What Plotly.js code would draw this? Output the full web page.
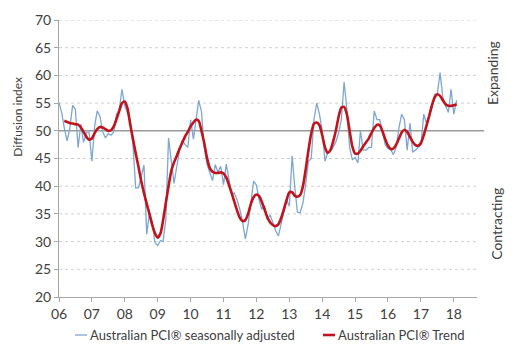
<!DOCTYPE html>
<html>
<head>
<meta charset="utf-8">
<script src="https://cdn.plot.ly/plotly-3.0.1.min.js"></script>
<style>html,body{margin:0;padding:0;background:#fff;}#chart{width:529px;height:354px;}</style>
</head>
<body>
<div id="chart"></div>
<script>
// Monthly series, Jan 2006 .. Feb 2018
const saStart = [2006, 1];
const saValues = [
  55.1, 53.2, 50.5, 48.2, 50.5, 54.6, 53.9, 47.0, 51.2, 47.9, 49.7, 49.8,   // 2006
  44.5, 50.9, 53.6, 52.6, 49.8, 48.7, 49.5, 49.2, 49.8, 53.0, 53.8, 57.5,   // 2007
  54.5, 53.2, 52.0, 47.5, 39.7, 39.7, 41.5, 43.8, 31.3, 35.2, 33.5, 29.8,   // 2008
  29.3, 30.2, 30.0, 34.0, 48.7, 44.5, 40.5, 43.6, 46.5, 48.3, 47.5, 47.0,   // 2009
  52.0, 48.5, 51.5, 55.5, 53.5, 47.0, 44.0, 42.5, 41.0, 43.9, 42.5, 43.6,   // 2010
  40.3, 44.0, 41.0, 38.5, 38.8, 37.5, 35.8, 33.5, 30.5, 33.0, 37.0, 40.9,   // 2011
  40.2, 37.5, 35.8, 36.5, 34.0, 34.8, 33.5, 32.0, 31.0, 33.0, 35.0, 37.5,   // 2012
  36.4, 45.5, 40.0, 35.3, 35.2, 37.0, 40.3, 44.5, 45.0, 52.0, 55.0, 53.0,   // 2013
  50.0, 44.5, 46.0, 46.2, 47.0, 48.0, 49.5, 52.0, 58.8, 54.0, 47.0, 44.8,   // 2014
  45.2, 44.2, 50.0, 46.5, 46.5, 47.0, 47.0, 53.6, 52.0, 52.0, 50.0, 47.5,   // 2015
  46.8, 46.6, 45.7, 47.0, 50.5, 53.0, 52.0, 46.5, 51.4, 46.2, 46.5, 47.0,   // 2016
  47.5, 53.0, 51.5, 52.5, 54.0, 56.6, 56.6, 60.5, 56.0, 54.5, 53.3, 57.5,   // 2017
  53.0, 55.5                                                                 // 2018
];
// Trend, Mar 2006 .. Feb 2018
const trendStart = [2006, 3];
const trendValues = [
              51.8, 51.6, 51.4, 51.3, 51.2, 51.1, 50.6, 49.8, 48.9, 48.4,   // 2006
  48.6, 49.6, 50.3, 50.7, 50.6, 50.3, 50.0, 50.1, 50.8, 52.1, 53.6, 55.0,   // 2007
  55.3, 54.0, 51.2, 48.5, 46.0, 43.5, 41.0, 38.8, 36.8, 35.0, 33.0, 31.5,   // 2008
  30.7, 31.5, 33.8, 37.0, 40.0, 42.8, 44.3, 45.5, 46.8, 47.9, 49.0, 49.8,   // 2009
  50.8, 51.5, 52.0, 51.8, 50.0, 47.8, 45.2, 43.3, 42.6, 42.4, 42.4, 42.5,   // 2010
  42.3, 41.6, 40.3, 38.8, 37.2, 35.6, 34.3, 33.7, 33.9, 35.0, 36.8, 38.0,   // 2011
  38.5, 38.2, 37.2, 35.8, 34.4, 33.5, 33.0, 32.8, 33.1, 34.2, 35.8, 37.5,   // 2012
  38.9, 38.9, 38.3, 38.1, 38.4, 40.0, 43.0, 46.5, 49.5, 51.3, 51.5, 51.0,   // 2013
  49.2, 47.0, 46.0, 46.5, 48.0, 50.0, 52.5, 54.2, 54.3, 53.0, 50.0, 47.2,   // 2014
  45.9, 45.9, 46.4, 47.2, 47.9, 48.6, 49.6, 50.5, 51.1, 51.0, 49.9, 48.5,   // 2015
  47.3, 46.7, 46.8, 47.5, 48.6, 49.7, 50.2, 49.8, 48.9, 48.0, 47.4, 47.3,   // 2016
  47.8, 49.2, 50.8, 52.6, 54.5, 56.0, 56.6, 56.3, 55.5, 54.8, 54.5, 54.5,   // 2017
  54.6, 54.8                                                                 // 2018
];
const yearTicks = ['06','07','08','09','10','11','12','13','14','15','16','17','18'];
const yTicks = [20, 25, 30, 35, 40, 45, 50, 55, 60, 65, 70];
const seriesNames = ['Australian PCI\u00ae seasonally adjusted', 'Australian PCI\u00ae Trend'];
const seriesColors = ['#7ea6d3', '#c0131c'];
const zoneLabels = ['Expanding', 'Contracting'];
const yTitle = 'Diffusion index';
const neutralLevel = 50;

function monthDates(start, n) {
  const out = [];
  let y = start[0], m = start[1];
  for (let i = 0; i < n; i++) {
    out.push(y + '-' + String(m).padStart(2, '0') + '-01');
    m++; if (m > 12) { m = 1; y++; }
  }
  return out;
}
const saDates = monthDates(saStart, saValues.length);
const trendDates = monthDates(trendStart, trendValues.length);
const tickVals = yearTicks.map(t => '20' + t + '-01-01');

const fontFam = 'Lato, "Liberation Sans", sans-serif';

const traces = [
  {x: saDates, y: saValues, type: 'scatter', mode: 'lines', name: seriesNames[0],
   line: {color: seriesColors[0], width: 1.3}},
  {x: trendDates, y: trendValues, type: 'scatter', mode: 'lines', name: seriesNames[1],
   line: {color: seriesColors[1], width: 2.6, shape: 'spline', smoothing: 0.6}}
];

// plot area in pixels: x 59..477, y 20..297
const pl = 59, pw = 418, pt = 20, ph = 277;
const px = v => (v - pl) / pw;
const py = v => (pt + ph - v) / ph;

const legendItems = [
  {x0: 75, x1: 87, tx: 88, width: 1.3},
  {x0: 323, x1: 335, tx: 336, width: 2.6}
];
const legendY = 335;

const shapes = [];
// dotted gridlines (except the 20 axis and the solid 50 line)
yTicks.filter(v => v !== neutralLevel && v !== 20).forEach(v => {
  shapes.push({type: 'line', xref: 'paper', yref: 'y', x0: 0, x1: 1, y0: v, y1: v,
    line: {color: '#d0d0d0', width: 1, dash: 'dot'}, layer: 'below'});
});
shapes.push({type: 'line', xref: 'paper', yref: 'y', x0: 0, x1: 1.017, y0: neutralLevel, y1: neutralLevel,
   line: {color: '#9a9a9a', width: 1.5}, layer: 'below'});

const annotations = [
  {text: zoneLabels[0], xref: 'paper', yref: 'paper', x: 1.037, y: 0.81, textangle: -90,
   xanchor: 'center', yanchor: 'middle',
   showarrow: false, font: {size: 14, color: '#404040'}},
  {text: zoneLabels[1], xref: 'paper', yref: 'paper', x: 1.046, y: 0.265, textangle: -90,
   xanchor: 'center', yanchor: 'middle',
   showarrow: false, font: {size: 14, color: '#404040'}},
  {text: yTitle, xref: 'paper', yref: 'paper', x: -0.098, y: 0.651, textangle: -90,
   xanchor: 'center', yanchor: 'middle',
   showarrow: false, font: {size: 12, color: '#404040'}}
];
legendItems.forEach((it, i) => {
  shapes.push({type: 'line', xref: 'paper', yref: 'paper', x0: px(it.x0), x1: px(it.x1),
    y0: py(legendY), y1: py(legendY), line: {color: seriesColors[i], width: it.width}});
  annotations.push({text: seriesNames[i], xref: 'paper', yref: 'paper', x: px(it.tx), y: py(legendY),
    xanchor: 'left', yanchor: 'middle', showarrow: false, font: {size: 13, color: '#404040'}});
});

const layout = {
  width: 529, height: 354,
  margin: {l: pl, r: 529 - pl - pw, t: pt, b: 354 - pt - ph, autoexpand: false},
  paper_bgcolor: '#ffffff', plot_bgcolor: '#ffffff',
  font: {family: fontFam, size: 14, color: '#404040'},
  showlegend: false,
  xaxis: {type: 'date', range: ['2006-01-01', '2018-09-15'],
          tickvals: tickVals, ticktext: yearTicks,
          showgrid: false, zeroline: false,
          showline: true, linecolor: '#a6a6a6', linewidth: 1,
          ticks: 'outside', ticklen: 4, tickcolor: '#a6a6a6',
          tickfont: {size: 14, color: '#404040'}},
  yaxis: {range: [20, 70], tickvals: yTicks,
          showgrid: false, zeroline: false, showline: true, linecolor: '#a6a6a6', linewidth: 1,
          ticks: 'outside', ticklen: 4, tickcolor: '#a6a6a6',
          tickfont: {size: 14, color: '#404040'}},
  shapes: shapes,
  annotations: annotations
};

Plotly.newPlot('chart', traces, layout, {displayModeBar: false, staticPlot: true});
</script>
</body>
</html>
